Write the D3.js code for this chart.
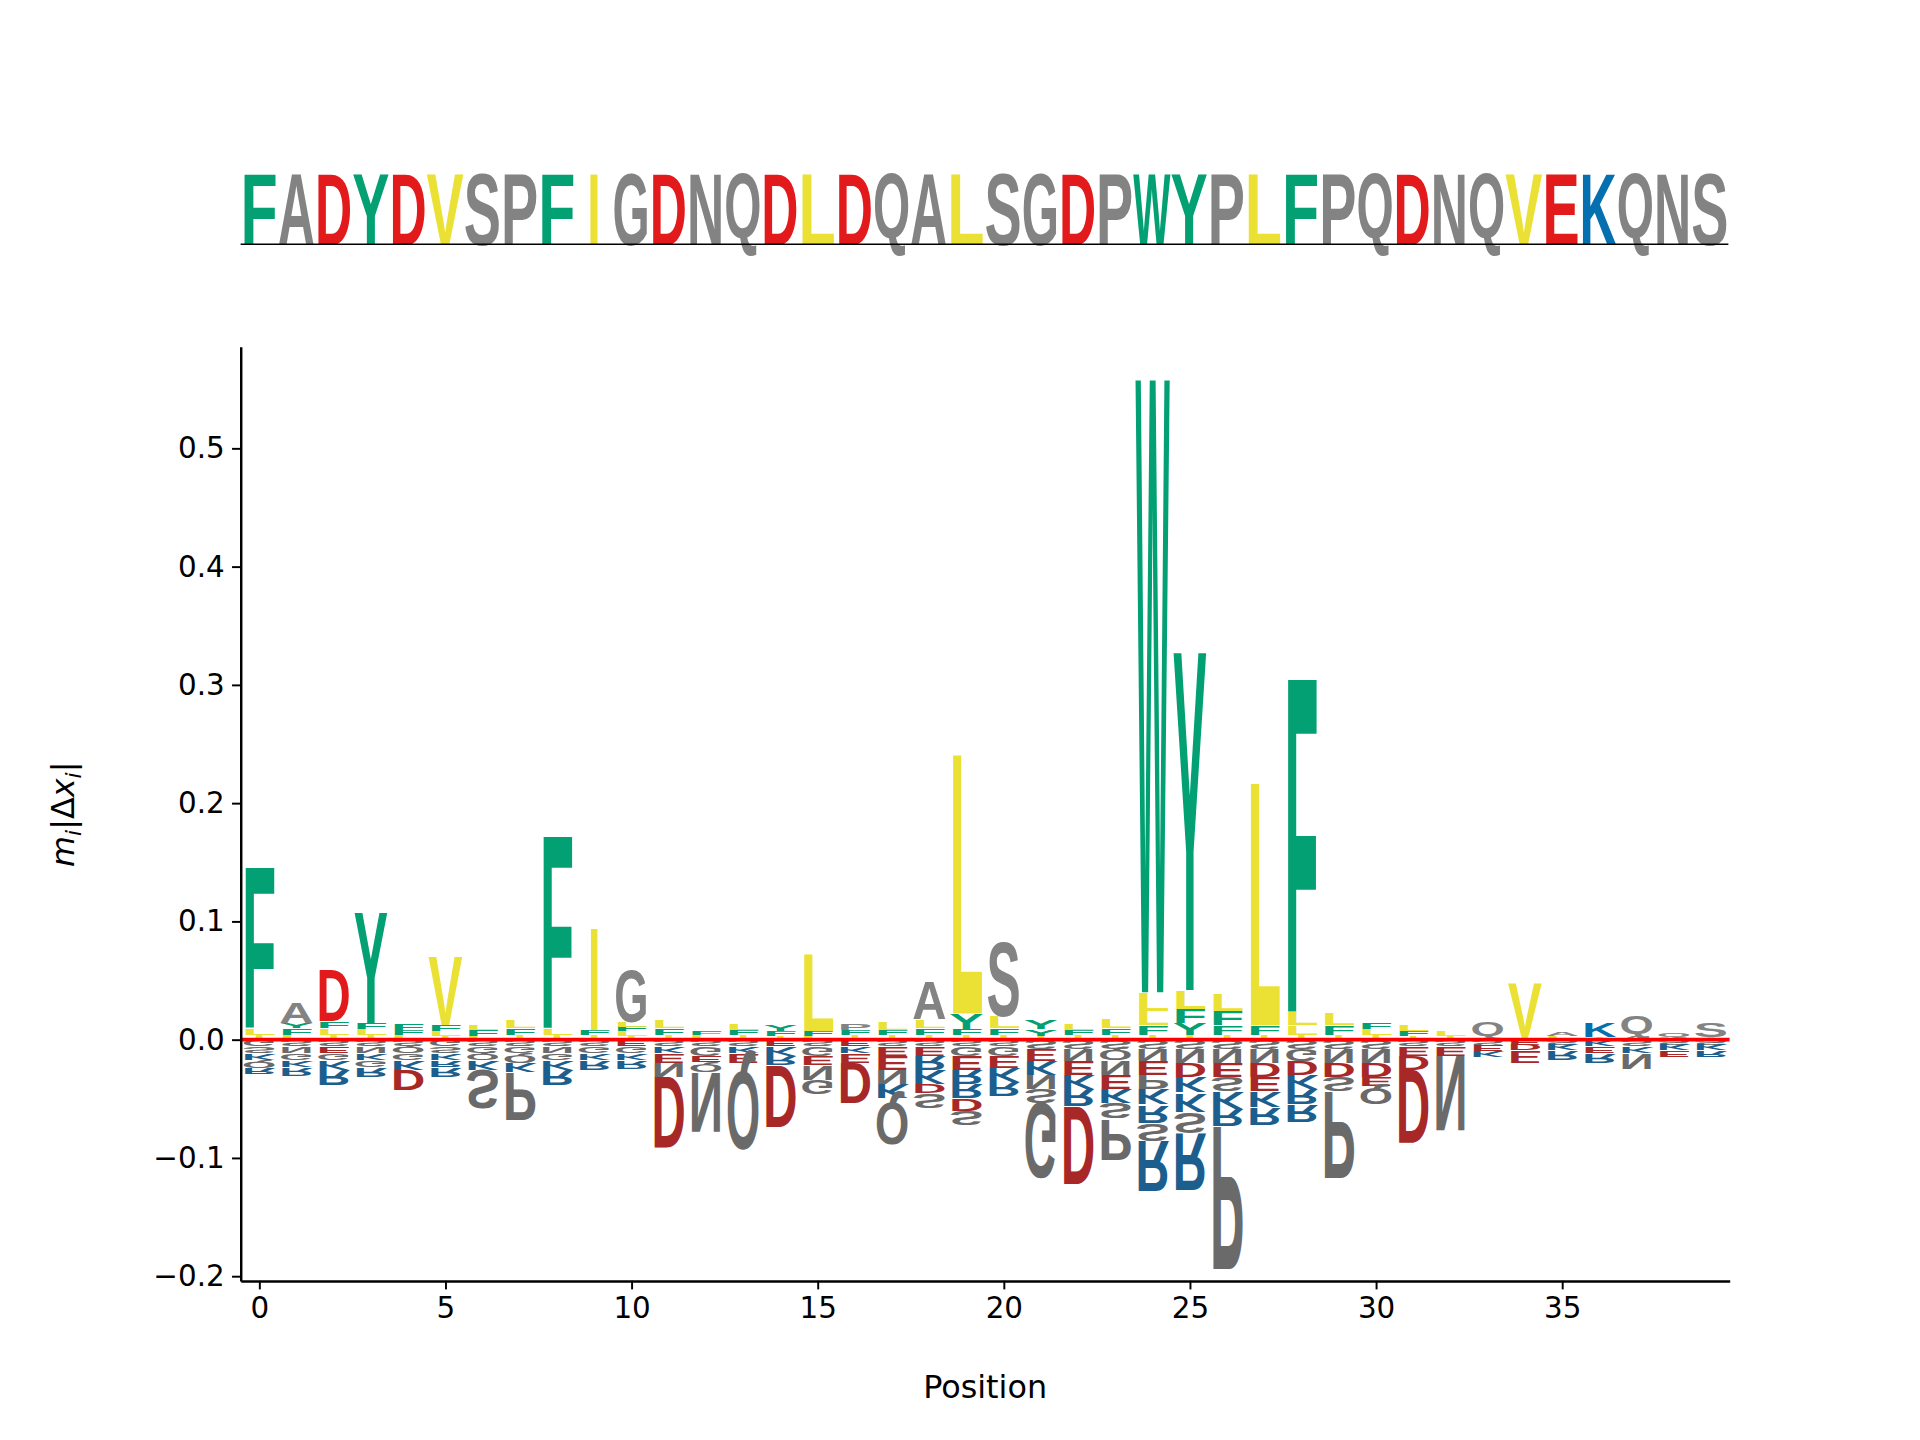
<html>
<head>
<meta charset="utf-8">
<script src="https://d3js.org/d3.v7.min.js"></script>
<style>
  body { margin:0; background:#fff; }
  text { font-family: "DejaVu Sans", sans-serif; }
</style>
</head>
<body>
<svg id="chart" width="1920" height="1440" viewBox="0 0 1567 1176"></svg>
<script>
// wild-type sequence shown in the header logo
const sequence = "FADYDVSPFIGDNQDLDQALSGDPWYPLFPQDNQVEKQNS".split("");

// positive stacks per position, bottom -> top : [letter, height]
const posStacks = [
  [["I",.004],["L",.006],["F",.142]],
  [["L",.004],["F",.006],["Y",.004],["A",.018]],
  [["I",.004],["L",.006],["F",.006],["D",.045]],
  [["I",.004],["L",.005],["F",.005],["Y",.098]],
  [["L",.004],["F",.004],["F",.006]],
  [["I",.003],["L",.004],["F",.005],["V",.06]],
  [["L",.003],["F",.005],["L",.004]],
  [["I",.004],["F",.006],["L",.007]],
  [["I",.004],["L",.006],["F",.17]],
  [["I",.004],["F",.004],["I",.09]],
  [["I",.003],["L",.004],["F",.004],["L",.004],["G",.045]],
  [["I",.004],["F",.006],["L",.007]],
  [["L",.004],["F",.003]],
  [["I",.004],["F",.004],["L",.005]],
  [["I",.003],["F",.004],["Y",.005]],
  [["L",.003],["F",.004],["L",.068]],
  [["I",.004],["F",.004],["P",.006]],
  [["I",.004],["F",.004],["L",.007]],
  [["I",.004],["F",.006],["L",.007],["A",.033]],
  [["I",.004],["F",.005],["Y",.013],["L",.23]],
  [["I",.004],["F",.006],["L",.01],["S",.065]],
  [["I",.003],["Y",.006],["Y",.008]],
  [["I",.004],["F",.004],["L",.006]],
  [["I",.004],["F",.006],["L",.008]],
  [["I",.004],["F",.008],["L",.012],["L",.016],["W",.545]],
  [["I",.004],["Y",.01],["F",.012],["L",.016],["Y",.30]],
  [["I",.004],["F",.008],["F",.012],["L",.015]],
  [["I",.004],["F",.008],["L",.215]],
  [["I",.004],["L",.008],["L",.012],["F",.295]],
  [["I",.004],["F",.008],["L",.01]],
  [["I",.004],["L",.005],["F",.005]],
  [["I",.003],["F",.004],["L",.005]],
  [["I",.003],["L",.004]],
  [["I",.002],["Q",.014]],
  [["I",.003],["V",.047]],
  [["L",.003],["A",.003]],
  [["I",.002],["K",.012]],
  [["A",.003],["Q",.018]],
  [["L",.002],["Q",.004]],
  [["I",.002],["S",.012]]
];

// negative stacks per position, from zero downward : [letter, height]
const negStacks = [
  [["G",.006],["S",.006],["K",.006],["Q",.006],["R",.006]],
  [["S",.006],["N",.006],["G",.006],["K",.006],["R",.007]],
  [["S",.006],["E",.006],["G",.006],["K",.008],["R",.014]],
  [["S",.006],["N",.006],["K",.006],["G",.006],["R",.008]],
  [["S",.006],["Q",.006],["G",.006],["K",.008],["D",.018]],
  [["G",.006],["S",.006],["K",.006],["R",.006],["R",.008]],
  [["S",.006],["G",.006],["Q",.006],["K",.008],["S",.034]],
  [["S",.006],["G",.006],["Q",.008],["K",.008],["P",.042]],
  [["S",.006],["N",.006],["G",.006],["K",.008],["R",.014]],
  [["S",.006],["G",.006],["K",.006],["R",.008]],
  [["E",.006],["G",.006],["K",.006],["R",.007]],
  [["S",.006],["K",.006],["E",.008],["N",.012],["D",.062]],
  [["S",.006],["G",.008],["E",.006],["Q",.008],["N",.052]],
  [["S",.006],["K",.006],["E",.008],["Q",.075]],
  [["E",.006],["K",.008],["R",.008],["D",.055]],
  [["S",.006],["G",.008],["E",.008],["N",.012],["G",.012]],
  [["E",.006],["K",.006],["E",.008],["D",.035]],
  [["S",.006],["E",.008],["E",.012],["N",.012],["K",.012],["Q",.04]],
  [["S",.006],["E",.008],["R",.012],["K",.012],["D",.008],["S",.012]],
  [["S",.006],["G",.008],["E",.012],["R",.012],["R",.012],["D",.01],["S",.012]],
  [["S",.006],["G",.008],["E",.01],["K",.012],["R",.012]],
  [["S",.008],["E",.01],["K",.012],["N",.012],["S",.012],["G",.066]],
  [["S",.008],["N",.01],["E",.012],["K",.012],["R",.015],["D",.068]],
  [["S",.008],["Q",.01],["N",.012],["E",.012],["K",.012],["S",.014],["P",.035]],
  [["S",.008],["N",.01],["E",.012],["P",.012],["K",.014],["R",.015],["S",.015],["R",.044]],
  [["S",.008],["N",.012],["D",.012],["K",.014],["K",.016],["S",.018],["R",.05]],
  [["S",.008],["N",.012],["E",.012],["S",.012],["K",.015],["R",.015],["P",.126]],
  [["S",.008],["N",.012],["D",.012],["E",.012],["K",.014],["R",.015]],
  [["S",.008],["G",.01],["D",.012],["K",.012],["R",.013],["R",.015]],
  [["S",.008],["N",.012],["D",.012],["S",.012],["P",.076]],
  [["S",.008],["N",.012],["D",.012],["E",.008],["Q",.015]],
  [["S",.006],["E",.008],["D",.012],["D",.065]],
  [["S",.006],["E",.008],["N",.066]],
  [["S",.005],["E",.005],["K",.006]],
  [["E",.004],["D",.006],["E",.01]],
  [["S",.004],["K",.006],["R",.008]],
  [["K",.006],["E",.006],["R",.008]],
  [["S",.006],["K",.006],["N",.014]],
  [["S",.004],["K",.006],["E",.006]],
  [["S",.004],["K",.006],["R",.006]]
];

const xTicks = [0, 5, 10, 15, 20, 25, 30, 35];
const yTicks = [-0.2, -0.1, 0.0, 0.1, 0.2, 0.3, 0.4, 0.5];

const svg = d3.select("#chart");

function colorOf(ch, neg) {
  if ("FWY".includes(ch)) return neg ? "#0a8a63" : "#03a073";
  if ("DE".includes(ch)) return neg ? "#a82828" : "#e31a1c";
  if ("ILVM".includes(ch)) return neg ? "#d8cf2c" : "#ebe135";
  if ("KRH".includes(ch)) return neg ? "#1c5f8e" : "#0570b0";
  return neg ? "#6a6a6a" : "#838383";
}

// draw a glyph stretched into the box [x0,x0+w] x [yTop,yBot]
const CAP = 72.5;
function drawLetter(g, ch, x0, w, yTop, yBot, color, flip) {
  const h = yBot - yTop;
  if (h <= 0.3) return;
  if (ch === "I") { x0 += w * 0.32; w *= 0.36; }
  const ink = ch === "Q" ? 80 : CAP, desc = ch === "Q" ? 7.5 : 0;
  const t = g.append("text")
    .attr("x", 0).attr("y", -desc)
    .style("font-family", "'Liberation Sans', Arial, sans-serif")
    .style("font-weight", "bold")
    .style("font-size", "100px")
    .attr("fill", color)
    .text(ch);
  const adv = t.node().getComputedTextLength();
  const sx = w / adv, sy = h / ink;
  if (flip) t.attr("transform", `translate(${x0},${yTop}) scale(${sx},${-sy})`);
  else t.attr("transform", `translate(${x0},${yBot}) scale(${sx},${sy})`);
}

// ---- header logo ----
const hx = d3.scaleBand().domain(d3.range(40)).range([196, 1411]).padding(0);
const header = svg.append("g");
sequence.forEach((ch, i) => {
  drawLetter(header, ch, hx(i), hx.bandwidth(), 140, 200, colorOf(ch, false), false);
});
header.append("line").attr("x1", 196).attr("x2", 1411).attr("y1", 199.5).attr("y2", 199.5)
  .attr("stroke", "#000").attr("stroke-width", 1.2);

// ---- main logo ----
const x = d3.scaleLinear().domain([-0.5, 39.5]).range([196, 1412]);
const y = d3.scaleLinear().domain([-0.204, 0.586]).range([1046, 283]);
const logo = svg.append("g");
const lw = 0.92;

posStacks.forEach((stack, i) => {
  let base = 0;
  stack.forEach(([ch, v]) => {
    drawLetter(logo, ch, x(i - lw / 2), x(lw) - x(0), y(base + v), y(base), colorOf(ch, false), false);
    base += v;
  });
});
negStacks.forEach((stack, i) => {
  let base = 0;
  stack.forEach(([ch, v]) => {
    drawLetter(logo, ch, x(i - lw / 2), x(lw) - x(0), y(base), y(base - v), colorOf(ch, true), true);
    base -= v;
  });
});

// zero line
svg.append("line").attr("x1", x(-0.5)).attr("x2", x(39.5)).attr("y1", y(0)).attr("y2", y(0))
  .attr("stroke", "#ff0000").attr("stroke-width", 3);

// axes
const fmt = d => d3.format(".1f")(d).replace("-", "\u2212");
svg.append("g").attr("transform", `translate(0,${y.range()[0]})`)
  .call(d3.axisBottom(x).tickValues(xTicks).tickSize(7).tickSizeOuter(0).tickPadding(6))
  .call(g => g.select(".domain").attr("stroke-width", 2))
  .call(g => g.selectAll(".tick line").attr("stroke-width", 1.6))
  .call(g => g.selectAll("text").style("font-size", "24px").attr("fill", "#000"));
svg.append("g").attr("transform", `translate(${x.range()[0]},0)`)
  .call(d3.axisLeft(y).tickValues(yTicks).tickFormat(fmt).tickSize(7).tickSizeOuter(0).tickPadding(6))
  .call(g => g.select(".domain").attr("stroke-width", 2))
  .call(g => g.selectAll(".tick line").attr("stroke-width", 1.6))
  .call(g => g.selectAll("text").style("font-size", "24px").attr("fill", "#000"));

svg.append("text").attr("x", (x.range()[0] + x.range()[1]) / 2).attr("y", 1142)
  .attr("text-anchor", "middle").style("font-size", "26px").text("Position");

const yl = svg.append("text").attr("transform", "translate(60,665) rotate(-90)")
  .attr("text-anchor", "middle").style("font-size", "26px");
yl.append("tspan").style("font-style", "italic").text("m");
yl.append("tspan").style("font-style", "italic").style("font-size", "18px").attr("dy", 6).text("i");
yl.append("tspan").attr("dy", -6).text("|\u0394");
yl.append("tspan").style("font-style", "italic").text("x");
yl.append("tspan").style("font-style", "italic").style("font-size", "18px").attr("dy", 6).text("i");
yl.append("tspan").attr("dy", -6).text("|");
</script>
</body>
</html>
